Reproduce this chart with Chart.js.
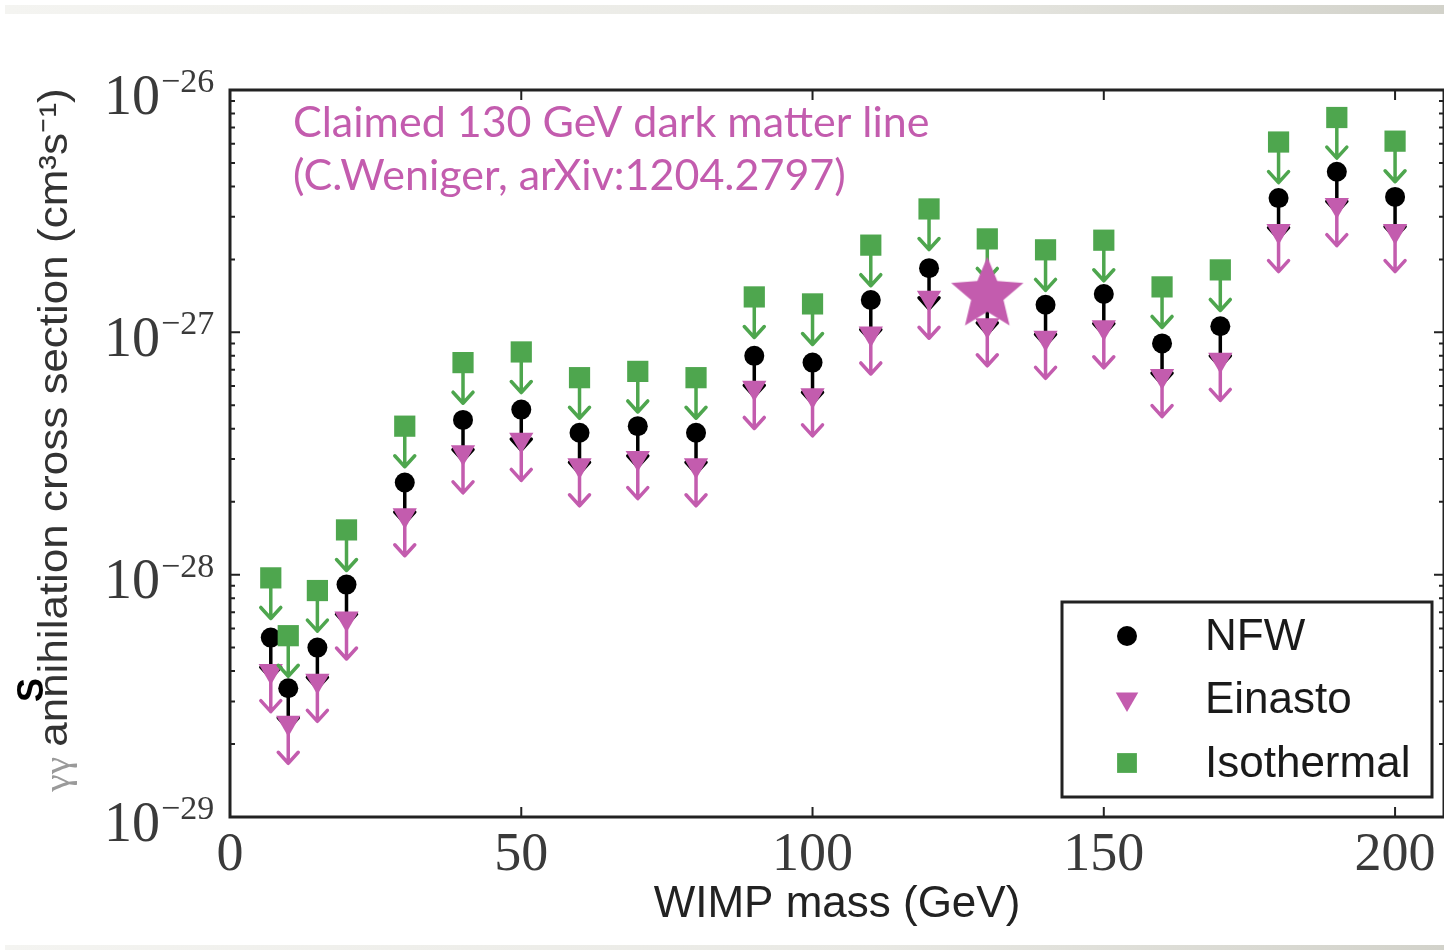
<!DOCTYPE html>
<html>
<head>
<meta charset="utf-8">
<script src="https://cdn.jsdelivr.net/npm/chart.js@4.4.1/dist/chart.umd.min.js"></script>
<style>
  html, body { margin: 0; padding: 0; background: #fff; overflow: hidden; }
  #wrap { position: relative; width: 1444px; height: 950px; }
  #chart { position: absolute; left: 0; top: 0; }
  .band { position: absolute; left: 5px; right: 0; background: linear-gradient(to right, #f4f4f1, #e9e9e4 60%, #d2d2ca); }
  #topBand { top: 5px; height: 9px; }
  #bottomBand { top: 945px; height: 5px; }
</style>
</head>
<body>
<div id="wrap">
  <canvas id="chart" width="1444" height="950"></canvas>
  <div id="topBand" class="band"></div>
  <div id="bottomBand" class="band"></div>
</div>
<script>
"use strict";

// WIMP masses (GeV) and 95% upper limits on <sigma v> (cm^3 s^-1)
const masses = [7, 10, 15, 20, 30, 40, 50, 60, 70, 80, 90, 100, 110, 120, 130, 140, 150, 160, 170, 180, 190, 200];

const nfw = [5.5e-29, 3.4e-29, 5.0e-29, 9.1e-29, 2.4e-28, 4.35e-28, 4.8e-28, 3.85e-28, 4.1e-28, 3.85e-28,
  8.0e-28, 7.5e-28, 1.36e-27, 1.84e-27, 1.45e-27, 1.30e-27, 1.44e-27, 9.0e-28, 1.06e-27, 3.58e-27, 4.6e-27, 3.62e-27];

const einasto = [4.0e-29, 2.45e-29, 3.65e-29, 6.6e-29, 1.76e-28, 3.2e-28, 3.6e-28, 2.83e-28, 3.03e-28, 2.83e-28,
  5.9e-28, 5.5e-28, 9.9e-28, 1.39e-27, 1.07e-27, 9.5e-28, 1.05e-27, 6.6e-28, 7.7e-28, 2.62e-27, 3.35e-27, 2.62e-27];

const isothermal = [9.7e-29, 5.6e-29, 8.6e-29, 1.53e-28, 4.1e-28, 7.5e-28, 8.3e-28, 6.5e-28, 6.9e-28, 6.5e-28,
  1.40e-27, 1.31e-27, 2.29e-27, 3.23e-27, 2.43e-27, 2.19e-27, 2.40e-27, 1.54e-27, 1.81e-27, 6.1e-27, 7.7e-27, 6.15e-27];

const claimedMass = [130];
const claimedValue = [1.43e-27];

const xTicks = [0, 50, 100, 150, 200];
const yDecades = [-29, -28, -27, -26];

const GREEN = "#4ea64e";
const MAGENTA = "#c35cae";
const ARROW_FACTOR = 0.68;

function toPoints(values) {
  return masses.map((m, i) => ({ x: m, y: values[i] }));
}

// filled five-pointed star used as point style for the claimed line
function makeStar(outer, inner, color) {
  const c = document.createElement("canvas");
  c.width = c.height = Math.ceil(outer * 2 + 4);
  const g = c.getContext("2d");
  const cx = c.width / 2, cy = c.height / 2;
  g.beginPath();
  for (let i = 0; i < 10; i++) {
    const r = i % 2 === 0 ? outer : inner;
    const a = -Math.PI / 2 + i * Math.PI / 5;
    g.lineTo(cx + r * Math.cos(a), cy + r * Math.sin(a));
  }
  g.closePath();
  g.fillStyle = color;
  g.fill();
  return c;
}

const limitArrows = {
  id: "limitArrows",
  beforeDatasetDraw(chart, args) {
    const ds = chart.data.datasets[args.index];
    if (!ds.arrowColor) return;
    const { ctx, scales: { x, y } } = chart;
    ctx.save();
    ctx.strokeStyle = ds.arrowColor;
    ctx.lineWidth = 3.5;
    ctx.lineCap = "round";
    ctx.lineJoin = "round";
    ds.data.forEach((p) => {
      const px = x.getPixelForValue(p.x);
      const py = y.getPixelForValue(p.y);
      const ty = y.getPixelForValue(p.y * ARROW_FACTOR);
      ctx.beginPath();
      ctx.moveTo(px, py);
      ctx.lineTo(px, ty);
      ctx.moveTo(px - 10, ty - 11);
      ctx.lineTo(px, ty);
      ctx.lineTo(px + 10, ty - 11);
      ctx.stroke();
    });
    ctx.restore();
  }
};

const decorations = {
  id: "decorations",
  afterDraw(chart) {
    const { ctx, chartArea: a, scales: { x, y } } = chart;
    ctx.save();

    // frame
    ctx.strokeStyle = "#222";
    ctx.lineWidth = 3;
    ctx.strokeRect(a.left, a.top, a.right - a.left, a.bottom - a.top);

    // inward ticks
    ctx.lineWidth = 2;
    ctx.beginPath();
    xTicks.forEach((v) => {
      const px = x.getPixelForValue(v);
      ctx.moveTo(px, a.bottom); ctx.lineTo(px, a.bottom - 10);
      ctx.moveTo(px, a.top); ctx.lineTo(px, a.top + 10);
    });
    yDecades.forEach((d, i) => {
      const py = y.getPixelForValue(Math.pow(10, d));
      ctx.moveTo(a.left, py); ctx.lineTo(a.left + 10, py);
      ctx.moveTo(a.right, py); ctx.lineTo(a.right - 10, py);
      if (i < yDecades.length - 1) {
        for (let k = 2; k < 10; k++) {
          const my = y.getPixelForValue(k * Math.pow(10, d));
          ctx.moveTo(a.left, my); ctx.lineTo(a.left + 5, my);
          ctx.moveTo(a.right, my); ctx.lineTo(a.right - 5, my);
        }
      }
    });
    ctx.stroke();

    // y tick labels 10^n
    ctx.fillStyle = "#3a3a3a";
    ctx.textBaseline = "middle";
    yDecades.forEach((d) => {
      const py = y.getPixelForValue(Math.pow(10, d));
      ctx.font = "56px 'Liberation Serif'";
      ctx.textAlign = "right";
      ctx.fillText("10", 160, py + 9);
      ctx.font = "34px 'Liberation Serif'";
      ctx.textAlign = "left";
      ctx.fillText("\u2212" + Math.abs(d), 161, py - 7);
    });

    // y axis title (stretched along its length like the source image)
    ctx.save();
    ctx.translate(56, 440);
    ctx.rotate(-Math.PI / 2);
    ctx.scale(1.1, 1);
    ctx.textAlign = "left";
    ctx.textBaseline = "middle";
    const gg = "\u03b3\u03b3 ";
    const rest = "annihilation cross section (cm\u00b3s\u207b\u00b9)";
    ctx.font = "40px 'Liberation Sans'";
    const restW = ctx.measureText(rest).width;
    ctx.font = "36px 'Liberation Serif'";
    const ggW = ctx.measureText(gg).width;
    const start = -(restW + ggW) / 2;
    ctx.fillStyle = "#9a9a9a";
    ctx.fillText(gg, start, 4);
    ctx.fillStyle = "#333";
    ctx.font = "40px 'Liberation Sans'";
    ctx.fillText(rest, start + ggW, 0);
    ctx.restore();

    // stray sigma glyph of the original label
    ctx.save();
    ctx.translate(33, 690);
    ctx.rotate(-Math.PI / 2);
    ctx.fillStyle = "#000";
    ctx.font = "bold 36px 'Liberation Sans'";
    ctx.textAlign = "center";
    ctx.textBaseline = "middle";
    ctx.fillText("S", 0, 0);
    ctx.restore();

    // annotation
    ctx.fillStyle = MAGENTA;
    ctx.font = "43px Lato";
    ctx.textAlign = "left";
    ctx.textBaseline = "middle";
    ctx.fillText("Claimed 130 GeV dark matter line", 293, 123);
    ctx.fillText("(C.Weniger, arXiv:1204.2797)", 293, 176);

    // legend box
    const bx = 1062, by = 602, bw = 370, bh = 195;
    ctx.fillStyle = "#fff";
    ctx.fillRect(bx, by, bw, bh);
    ctx.strokeStyle = "#222";
    ctx.lineWidth = 3;
    ctx.strokeRect(bx, by, bw, bh);
    const rows = [636, 699, 763];
    chart.data.datasets.filter((ds) => ds.label).forEach((ds, i) => {
      ctx.fillStyle = ds.backgroundColor;
      Chart.helpers.drawPoint(ctx, {
        pointStyle: ds.pointStyle,
        radius: ds.legendRadius,
        rotation: ds.pointRotation || 0,
        borderWidth: 0
      }, 1127, rows[i]);
      ctx.fillStyle = "#1a1a1a";
      ctx.font = "44px 'Liberation Sans'";
      ctx.textAlign = "left";
      ctx.textBaseline = "middle";
      ctx.fillText(ds.label, 1205, rows[i] + 2);
    });

    ctx.restore();
  }
};

new Chart(document.getElementById("chart"), {
  type: "scatter",
  data: {
    datasets: [
      {
        label: "NFW",
        data: toPoints(nfw),
        pointStyle: "circle",
        pointRadius: 10,
        legendRadius: 10,
        backgroundColor: "#000",
        borderWidth: 0,
        arrowColor: "#000",
        order: 3
      },
      {
        label: "Einasto",
        data: toPoints(einasto),
        pointStyle: "triangle",
        pointRotation: 180,
        pointRadius: 14,
        legendRadius: 13,
        backgroundColor: MAGENTA,
        borderWidth: 0,
        arrowColor: MAGENTA,
        order: 2
      },
      {
        label: "Isothermal",
        data: toPoints(isothermal),
        pointStyle: "rect",
        pointRadius: 15,
        legendRadius: 14,
        backgroundColor: GREEN,
        borderWidth: 0,
        arrowColor: GREEN,
        order: 1
      },
      {
        data: claimedMass.map((m, i) => ({ x: m, y: claimedValue[i] })),
        pointStyle: makeStar(38, 17, MAGENTA),
        backgroundColor: MAGENTA,
        borderWidth: 0,
        order: 0
      }
    ]
  },
  options: {
    responsive: false,
    animation: false,
    events: [],
    layout: { autoPadding: false, padding: { top: 90, right: 0, left: 0, bottom: 0 } },
    plugins: {
      legend: { display: false },
      tooltip: { enabled: false }
    },
    scales: {
      x: {
        type: "linear",
        min: 0,
        max: 208.4,
        afterBuildTicks: (scale) => { scale.ticks = xTicks.map((v) => ({ value: v })); },
        afterFit: (scale) => {
          scale.height = 133;
          scale.paddingLeft = 0;
          scale.paddingRight = 0;
        },
        grid: { display: false, drawTicks: false },
        border: { display: false },
        ticks: {
          color: "#3a3a3a",
          padding: 6,
          maxRotation: 0,
          font: { family: "'Liberation Serif'", size: 54 }
        },
        title: {
          display: true,
          text: "WIMP mass (GeV)",
          color: "#222",
          font: { family: "'Liberation Sans'", size: 44 },
          padding: { top: 0, bottom: 19 }
        }
      },
      y: {
        type: "logarithmic",
        min: 1e-29,
        max: 1e-26,
        afterFit: (scale) => { scale.width = 230; },
        grid: { display: false, drawTicks: false },
        border: { display: false },
        ticks: { display: false }
      }
    }
  },
  plugins: [limitArrows, decorations]
});
</script>
</body>
</html>
